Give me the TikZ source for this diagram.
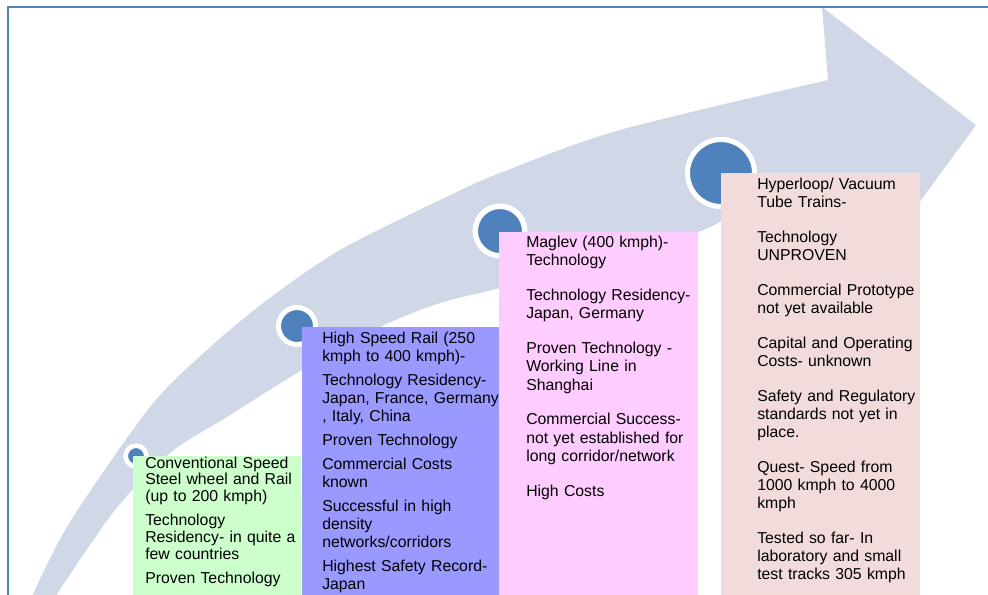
\documentclass[tikz,border=0pt]{standalone}
\usepackage{fontspec}
\setmainfont{Liberation Sans}
\usepackage{tikz}
\definecolor{frameblue}{RGB}{79,129,189}
\definecolor{ribbon}{RGB}{208,216,232}
\definecolor{mint}{RGB}{204,255,204}
\definecolor{periwinkle}{RGB}{153,153,255}
\definecolor{candy}{RGB}{255,204,255}
\definecolor{blush}{RGB}{242,220,219}
\tikzset{
  milestone/.style={circle,fill=frameblue,draw=white,inner sep=0pt},
  stagetext/.style={font=\fontsize{11.85pt}{#1}\selectfont,text width=160pt,align=left,
    inner sep=0pt,anchor=base west}
}

\begin{document}
\begin{tikzpicture}[x=0.75pt,y=-0.75pt]
    \useasboundingbox (0,0) rectangle (988,594);
    \clip (0,0) rectangle (988,594);
    % the rising arrow
    \fill[ribbon] (28,603) -- plot[smooth,tension=0.5] coordinates {(33,594) (70,522) (150,407) (207,350)
      (267,300) (340,250) (440,200) (500,173) (620,130) (828,80)}
      -- (822,7) -- (976,125) -- (905,222) -- (870,190)
      -- plot[smooth,tension=0.5] coordinates {(722,220) (698,232) (600,261) (500,288) (440,303)
      (380,327) (302,370) (227,417) (170,453) (115,510) (57,594)} -- (52,603) -- cycle;
    \draw[frameblue,line width=1.5pt] (8,610) |- (1000,7);
    \foreach \n/\x/\y/\d/\w in {conv/136/456/15.5pt/3.5pt, hsr/297/326/27.75pt/3.75pt,
      maglev/500/231/37.1pt/4.1pt, loop/721/173/50.25pt/3.75pt}
      \node[milestone,minimum size=\d,line width=\w] (\n dot) at (\x,\y) {};
    % stage panels
    \foreach \c/\xa/\ya/\xb in {mint/133/456/301, periwinkle/302/327/499, candy/499/232/698, blush/721/173/920}
      \fill[\c] (\xa,\ya) rectangle (\xb,600);
    \node[stagetext=12.6pt] (conv) at (145,468) {Conventional Speed\\ Steel wheel and Rail\\ (up to 200 kmph)\\[5.5pt]
      Technology\\ Residency- in quite a\\ few countries\\[5.5pt] Proven Technology};
    \node[stagetext=13.5pt] (hsr) at (322,343) {High Speed Rail (250\\ kmph to 400 kmph)-\\[4.5pt]
      Technology Residency-\\ Japan, France, Germany\\ , Italy, China\\[4.5pt] Proven Technology\\[4.5pt]
      Commercial Costs\\ known\\[4.5pt] Successful in high\\ density\\ networks/corridors\\[4.5pt]
      Highest Safety Record-\\ Japan};
    \node[stagetext=13.9pt] (maglev) at (526,247) {Maglev (400 kmph)-\\ Technology\\[12pt]
      Technology Residency-\\ Japan, Germany\\[12pt] Proven Technology -\\ Working Line in\\ Shanghai\\[12pt]
      Commercial Success-\\ not yet established for\\ long corridor/network\\[12pt] High Costs};
    \node[stagetext=13.5pt] (loop) at (757,189) {Hyperloop/ Vacuum\\ Tube Trains-\\[12.75pt]
      Technology\\ UNPROVEN\\[12.75pt] Commercial Prototype\\ not yet available\\[12.75pt]
      Capital and Operating\\ Costs- unknown\\[12.75pt] Safety and Regulatory\\ standards not yet in\\ place.\\[12.75pt]
      Quest- Speed from\\ 1000 kmph to 4000\\ kmph\\[12.75pt] Tested so far- In\\ laboratory and small\\ test tracks 305 kmph};
  \end{tikzpicture}
\end{document}
